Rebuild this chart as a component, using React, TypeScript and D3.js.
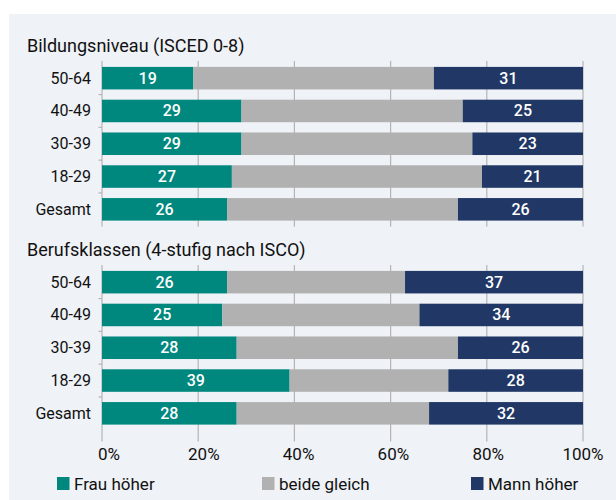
import React from 'react';
import * as d3 from 'd3';

// values (percent)
const categories = ['50-64', '40-49', '30-39', '18-29', 'Gesamt'];
const groupTitles = ['Bildungsniveau (ISCED 0-8)', 'Berufsklassen (4-stufig nach ISCO)'];
const seriesNames = ['Frau höher', 'beide gleich', 'Mann höher'];
const bildungFrau = [19, 29, 29, 27, 26];
const bildungGleich = [50, 46, 48, 52, 48];
const bildungMann = [31, 25, 23, 21, 26];
const berufFrau = [26, 25, 28, 39, 28];
const berufGleich = [37, 41, 46, 33, 40];
const berufMann = [37, 34, 26, 28, 32];
const xTicks = [0, 20, 40, 60, 80, 100];

const colors = ['#00877e', '#b1b1b1', '#213766'];
const FONT = 'Roboto, "Noto Sans", sans-serif';

const W = 616;
const H = 500;

const makeRows = (frau: number[], gleich: number[], mann: number[]) =>
	categories.map((c, i) => ({ cat: c, f: frau[i], g: gleich[i], m: mann[i] }));

const groups = [
	makeRows(bildungFrau, bildungGleich, bildungMann),
	makeRows(berufFrau, berufGleich, berufMann)
];
const groupTops = [61, 265];
const groupHeight = 165.5;

export default function App() {
	const x = d3.scaleLinear().domain([0, 100]).range([102, 583]);
	const stack = d3.stack<any>().keys(['f', 'g', 'm']);

	return (
		<svg width={W} height={H} style={{ position: 'absolute', left: 0, top: 0 }} fontFamily={FONT}>
			<rect x={9} y={14} width={W - 9} height={H - 14} fill="#eff2f7" />
			{groups.map((rows, gi) => {
				const top = groupTops[gi];
				const y = d3.scaleBand<string>()
					.domain(categories)
					.range([top, top + groupHeight])
					.paddingInner(0.313)
					.paddingOuter(0.18);
				const series = stack(rows);
				const bottom = top + groupHeight + (gi === 1 ? 11 : 0);
				return (
					<g key={gi}>
						<text x={27} y={top - 9} fontSize={18} fill="#111">{groupTitles[gi]}</text>
						{xTicks.map(t => (
							<line key={t} x1={x(t)} x2={x(t)} y1={top} y2={bottom} stroke="#b4b4b4" strokeWidth={1.2} />
						))}
						{categories.slice(1).map(c => {
							const yy = (y(c) as number) - (y.step() - y.bandwidth()) / 2;
							return <line key={c} x1={98.5} x2={102} y1={yy} y2={yy} stroke="#b4b4b4" strokeWidth={1.2} />;
						})}
						{series.map((s, si) => (
							<g key={si} fill={colors[si]}>
								{s.map((d: any) => (
									<rect key={d.data.cat} x={x(d[0])} y={y(d.data.cat)} width={x(d[1]) - x(d[0])} height={y.bandwidth()} />
								))}
							</g>
						))}
						{series.filter((_, si) => si !== 1).map((s, si) => (
							<g key={'l' + si}>
								{s.map((d: any) => (
									<text key={d.data.cat} x={(x(d[0]) + x(d[1])) / 2} y={(y(d.data.cat) as number) + y.bandwidth() / 2 + 5.5}
										textAnchor="middle" fontSize={16} fontWeight={500} fill="#fff">{d[1] - d[0]}</text>
								))}
							</g>
						))}
						{categories.map(c => (
							<text key={c} x={91} y={(y(c) as number) + y.bandwidth() / 2 + 5.5} textAnchor="end" fontSize={16} fill="#111">{c}</text>
						))}
					</g>
				);
			})}
			{xTicks.map(t => (
				<text key={t} x={x(t) + 7 * (1 - t / 100)} y={460} textAnchor="middle" fontSize={17} fill="#111">{t}%</text>
			))}
			{seriesNames.map((n, i) => {
				const lx = [57, 262, 471][i];
				return (
					<g key={n}>
						<rect x={lx} y={477} width={12.5} height={13} fill={colors[i]} />
						<text x={lx + 17} y={490} fontSize={17} fill="#111">{n}</text>
					</g>
				);
			})}
		</svg>
	);
}
